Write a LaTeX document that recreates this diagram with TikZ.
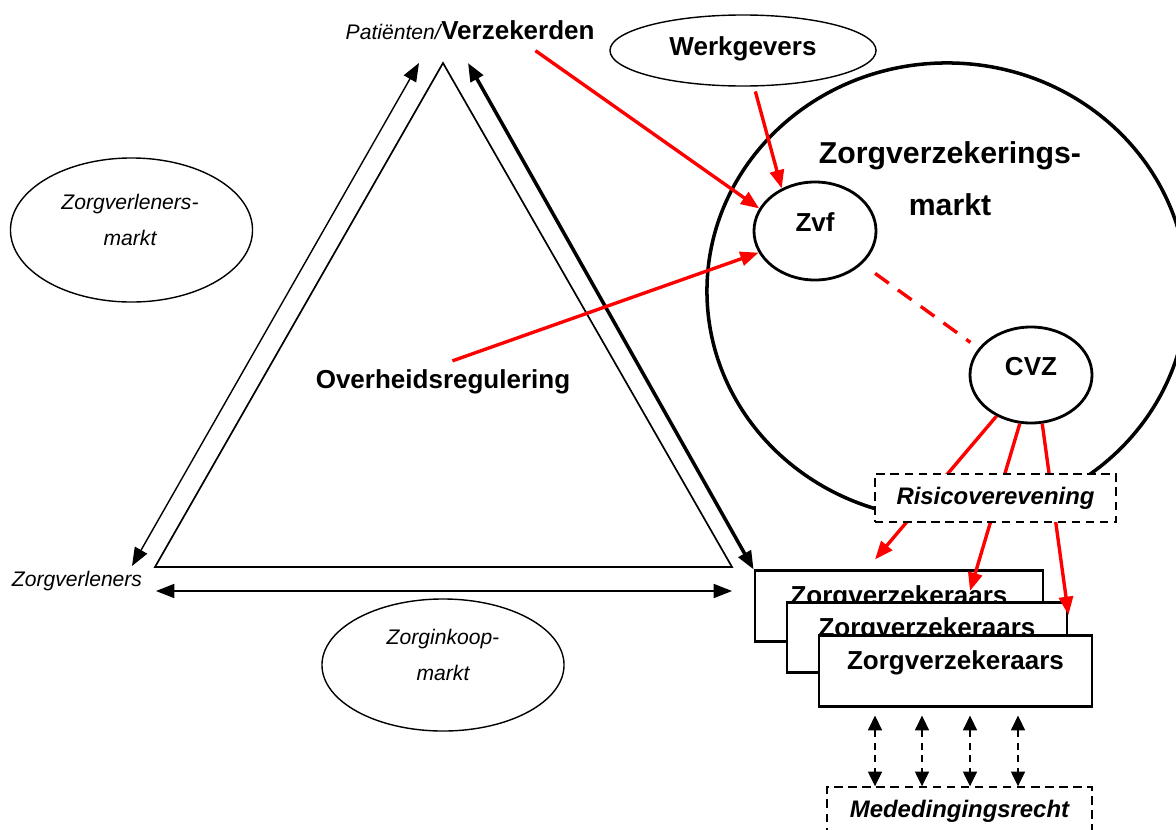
\documentclass[tikz,border=0pt]{standalone}
\usepackage{fontspec}
\setmainfont{Liberation Sans}
\usetikzlibrary{shapes.geometric,arrows.meta,calc,positioning}

\begin{document}
\begin{tikzpicture}[x=0.025cm, y=-0.025cm,
    every node/.style={font=\fontsize{18.5}{22}\selectfont\bfseries},
    sidearrow/.style={{Triangle[length=13pt,width=10pt]}-{Triangle[length=13pt,width=10pt]}, line width=1pt},
    mainarrow/.style={sidearrow, line width=2.5pt},
    redarrow/.style={-{Triangle[length=13pt,width=10pt]}, red, line width=2.4pt},
    reddash/.style={red, line width=2.4pt, dash pattern=on 12pt off 8pt},
    dashboth/.style={{Triangle[length=10.5pt,width=10pt]}-{Triangle[length=10.5pt,width=10pt]}, line width=1pt, dash pattern=on 5pt off 4pt},
    market/.style={ellipse, draw, line width=1pt, minimum width=6.05cm, minimum height=3.6cm},
    mtext/.style={align=center, font=\fontsize{15}{25}\selectfont\itshape},
    bubble/.style={ellipse, draw, line width=2pt, minimum width=3.05cm, minimum height=2.45cm, text height=13.5pt, text depth=12.5pt, inner sep=0pt},
    insurer/.style={rectangle, draw, fill=white, line width=2pt, inner ysep=0pt, text height=24pt, text depth=26pt},
    rulebox/.style={rectangle, draw, fill=white, line width=1pt, dash pattern=on 6pt off 4pt, minimum height=1.2cm, font=\fontsize{17}{20}\selectfont\bfseries\itshape}]
    \useasboundingbox (0,0) rectangle (1176,829);

    % labels round the triangle
    \node (pat) [anchor=base east, inner xsep=0pt, font=\fontsize{15}{18}\selectfont\itshape] at (441,39) {Patiënten/};
    \node (verz) [anchor=base west, inner xsep=0pt] at (pat.base east) {Verzekerden};
    \node (zvl) [anchor=base, font=\fontsize{15}{18}\selectfont\itshape] at (77,586) {Zorgverleners};
    \node (ovh) [anchor=base] at (443,388) {Overheidsregulering};

    % markets
    \node (vlm) [market] at (131.5,230) {};
    \node (vlmtext) [mtext] at (130,220) {Zorgverleners-\\markt};
    \node (ikm) [market, minimum height=3.3cm] at (443,665) {};
    \node (ikmtext) [mtext] at (443,655) {Zorginkoop-\\markt};

    % triangle
    \coordinate (top) at (443,63);
    \coordinate (bl) at (155,567);
    \coordinate (br) at (732,567);
    \draw [line width=1.2pt] (top) -- (bl) -- (br) -- cycle;

    % insurance market
    \node (werk) [ellipse, draw, line width=1pt, minimum width=6.65cm, minimum height=1.775cm, text height=13.5pt, text depth=7pt, inner sep=0pt] at (743,50.5) {Werkgevers};
    \node (zvm) [ellipse, draw, line width=2.5pt, minimum width=12cm, minimum height=11.4cm] at (947,291) {};
    \node (zvmtext) [align=center, font=\fontsize{21.5}{37}\selectfont\bfseries] at (950,179) {Zorgverzekerings-\\markt};
    \node (zvf) [bubble] at (815,231) {Zvf};
    \node (cvz) [bubble, minimum height=2.4cm] at (1031,375) {CVZ};

    % insurers
    \node (zv1) [insurer, minimum width=7.2cm] at (899,606) {Zorgverzekeraars};
    \node (zv2) [insurer, minimum width=7cm] at (927,637.5) {Zorgverzekeraars};
    \node (zv3) [insurer, minimum width=6.825cm] at (955.5,671) {Zorgverzekeraars};

    % relations
    \coordinate (lt) at (419,63);
    \coordinate (lb) at (132,566);
    \coordinate (rt) at (468,63);
    \coordinate (bla) at (156,591);
    \coordinate (bra) at (732,591);
    \draw [sidearrow] (lb) -- (lt);
    \draw [mainarrow] (rt) -- (zv1.north west);
    \draw [sidearrow] (bla) -- (bra);

    % regulation
    \draw [redarrow, shorten <=0.28cm] (verz.-60) -- (zvf.158);
    \draw [redarrow, shorten <=0.125cm] (werk.-73) -- (zvf.128);
    \draw [redarrow, shorten <=0.25cm] (ovh.north) -- (zvf.201);
    \draw [reddash, shorten <=0.4cm, shorten >=0.25cm] (zvf.-35) -- (cvz.153);
    \draw [redarrow] (cvz.230) -- ($(zv1.north)+(-24,-10)$);
    \draw [redarrow] (cvz.257) -- ($(zv2.north)+(43,-10)$);
    \draw [redarrow] (cvz.283) -- ($(zv2.north east)+(0,14)$);
    \node (risico) [rulebox, minimum width=6.025cm] at (995.5,498) {Risicoverevening};

    % competition law
    \node (med) [rulebox, minimum width=6.625cm] at (959.5,811) {Mededingingsrecht};
    \foreach \x in {875,922,970,1018}
        \draw [dashboth, shorten <=0.2cm] (\x,0 |- zv3.south) -- (\x,0 |- med.north);
\end{tikzpicture}
\end{document}
